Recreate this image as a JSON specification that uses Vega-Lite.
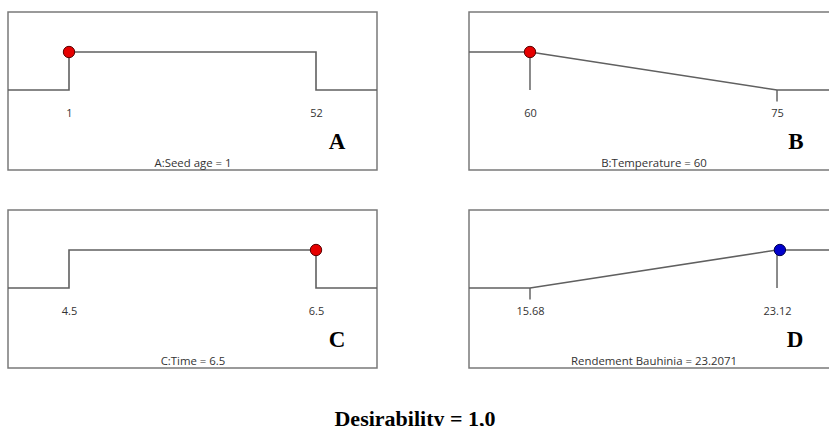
{
  "$schema": "https://vega.github.io/schema/vega-lite/v6.json",
  "padding": {"left": 4, "top": 11, "right": 0, "bottom": 0},
  "background": "white",
  "config": {"view": {"stroke": "#7a7a7a", "strokeWidth": 1.5}, "font": "Open Sans"},
  "title": {"text": "Desirability = 1,0", "orient": "bottom", "anchor": "middle", "offset": 40, "dx": -8, "font": "Liberation Serif", "fontSize": 22, "fontWeight": "bold", "color": "#000000"},
  "datasets": {
    "curve": [
      {"panel": "A", "i": 0, "x": -11.595, "d": 0},
      {"panel": "A", "i": 1, "x": 1, "d": 0},
      {"panel": "A", "i": 2, "x": 1, "d": 1},
      {"panel": "A", "i": 3, "x": 52, "d": 1},
      {"panel": "A", "i": 4, "x": 52, "d": 0},
      {"panel": "A", "i": 5, "x": 64.595, "d": 0},
      {"panel": "B", "i": 0, "x": 56.296, "d": 1},
      {"panel": "B", "i": 1, "x": 60, "d": 1},
      {"panel": "B", "i": 2, "x": 75, "d": 0},
      {"panel": "B", "i": 3, "x": 78.704, "d": 0},
      {"panel": "C", "i": 0, "x": 4.0061, "d": 0},
      {"panel": "C", "i": 1, "x": 4.5, "d": 0},
      {"panel": "C", "i": 2, "x": 4.5, "d": 1},
      {"panel": "C", "i": 3, "x": 6.5, "d": 1},
      {"panel": "C", "i": 4, "x": 6.5, "d": 0},
      {"panel": "C", "i": 5, "x": 6.9939, "d": 0},
      {"panel": "D", "i": 0, "x": 13.8426, "d": 0},
      {"panel": "D", "i": 1, "x": 15.68, "d": 0},
      {"panel": "D", "i": 2, "x": 23.12, "d": 1},
      {"panel": "D", "i": 3, "x": 24.957, "d": 1}
    ],
    "marker": [
      {"panel": "A", "x": 1, "d": 1},
      {"panel": "B", "x": 60, "d": 1},
      {"panel": "C", "x": 6.5, "d": 1},
      {"panel": "D", "x": 23.2071, "d": 1}
    ],
    "tick": [
      {"panel": "B", "x": 60, "d": 1, "d2": 0},
      {"panel": "B", "x": 75, "d": 0, "d2": -0.3},
      {"panel": "D", "x": 15.68, "d": 0, "d2": -0.3},
      {"panel": "D", "x": 23.12, "d": 1, "d2": 0}
    ]
  },
  "columns": 2,
  "spacing": {"row": 38, "column": 84},
  "concat": [
    {
      "width": 369, "height": 158,
      "title": {"text": "A", "orient": "bottom", "anchor": "start", "frame": "group", "align": "center", "dx": 329, "offset": -39, "font": "Liberation Serif", "fontSize": 23, "fontWeight": "bold", "color": "#000000"},
      "layer": [
        {
          "data": {"name": "curve"},
          "transform": [{"filter": "datum.panel === 'A'"}],
          "mark": {"type": "line", "color": "#606060", "strokeWidth": 1.6},
          "encoding": {
            "x": {"field": "x", "type": "quantitative", "scale": {"domain": [-11.595, 64.595], "nice": false, "zero": false},
              "axis": {"values": [1, 52], "format": "d", "title": "A:Seed age = 1", "orient": "bottom", "offset": -65, "domain": false, "ticks": false, "tickSize": 0, "grid": false, "labelPadding": 2, "labelFont": "Open Sans", "labelFontSize": 11, "labelColor": "#333333", "labelFlush": false, "labelOverlap": false, "titleFont": "Open Sans", "titleFontSize": 11.4, "titleFontWeight": "normal", "titleColor": "#333333", "titleY": 52, "titleBaseline": "top"}},
            "y": {"field": "d", "type": "quantitative", "scale": {"domain": [-2.1053, 2.0526], "nice": false, "zero": false}, "axis": null},
            "order": {"field": "i"}
          }
        },
        {
          "data": {"name": "marker"},
          "transform": [{"filter": "datum.panel === 'A'"}],
          "mark": {"type": "circle", "fill": "#e60000", "stroke": "#5a0000", "strokeWidth": 1, "size": 130, "opacity": 1},
          "encoding": {"x": {"field": "x", "type": "quantitative"}, "y": {"field": "d", "type": "quantitative"}}
        }
      ]
    },
    {
      "width": 369, "height": 158,
      "title": {"text": "B", "orient": "bottom", "anchor": "start", "frame": "group", "align": "center", "dx": 327, "offset": -39, "font": "Liberation Serif", "fontSize": 23, "fontWeight": "bold", "color": "#000000"},
      "layer": [
        {
          "data": {"name": "tick"},
          "transform": [{"filter": "datum.panel === 'B'"}],
          "mark": {"type": "rule", "color": "#6e6e6e", "strokeWidth": 1.6},
          "encoding": {
            "x": {"field": "x", "type": "quantitative", "scale": {"domain": [56.296, 78.704], "nice": false, "zero": false},
              "axis": {"values": [60, 75], "format": "d", "title": "B:Temperature = 60", "orient": "bottom", "offset": -65, "domain": false, "ticks": false, "tickSize": 0, "grid": false, "labelPadding": 2, "labelFont": "Open Sans", "labelFontSize": 11, "labelColor": "#333333", "labelFlush": false, "labelOverlap": false, "titleFont": "Open Sans", "titleFontSize": 11.4, "titleFontWeight": "normal", "titleColor": "#333333", "titleY": 52, "titleBaseline": "top"}},
            "y": {"field": "d", "type": "quantitative", "scale": {"domain": [-2.1053, 2.0526], "nice": false, "zero": false}, "axis": null},
            "y2": {"field": "d2"}
          }
        },
        {
          "data": {"name": "curve"},
          "transform": [{"filter": "datum.panel === 'B'"}],
          "mark": {"type": "line", "color": "#606060", "strokeWidth": 1.6},
          "encoding": {
            "x": {"field": "x", "type": "quantitative"},
            "y": {"field": "d", "type": "quantitative"},
            "order": {"field": "i"}
          }
        },
        {
          "data": {"name": "marker"},
          "transform": [{"filter": "datum.panel === 'B'"}],
          "mark": {"type": "circle", "fill": "#e60000", "stroke": "#5a0000", "strokeWidth": 1, "size": 130, "opacity": 1},
          "encoding": {"x": {"field": "x", "type": "quantitative"}, "y": {"field": "d", "type": "quantitative"}}
        }
      ]
    },
    {
      "width": 369, "height": 158,
      "title": {"text": "C", "orient": "bottom", "anchor": "start", "frame": "group", "align": "center", "dx": 329, "offset": -39, "font": "Liberation Serif", "fontSize": 23, "fontWeight": "bold", "color": "#000000"},
      "layer": [
        {
          "data": {"name": "curve"},
          "transform": [{"filter": "datum.panel === 'C'"}],
          "mark": {"type": "line", "color": "#606060", "strokeWidth": 1.6},
          "encoding": {
            "x": {"field": "x", "type": "quantitative", "scale": {"domain": [4.0061, 6.9939], "nice": false, "zero": false},
              "axis": {"values": [4.5, 6.5], "format": ".1f", "title": "C:Time = 6.5", "orient": "bottom", "offset": -65, "domain": false, "ticks": false, "tickSize": 0, "grid": false, "labelPadding": 2, "labelFont": "Open Sans", "labelFontSize": 11, "labelColor": "#333333", "labelFlush": false, "labelOverlap": false, "titleFont": "Open Sans", "titleFontSize": 11.4, "titleFontWeight": "normal", "titleColor": "#333333", "titleY": 52, "titleBaseline": "top"}},
            "y": {"field": "d", "type": "quantitative", "scale": {"domain": [-2.1053, 2.0526], "nice": false, "zero": false}, "axis": null},
            "order": {"field": "i"}
          }
        },
        {
          "data": {"name": "marker"},
          "transform": [{"filter": "datum.panel === 'C'"}],
          "mark": {"type": "circle", "fill": "#e60000", "stroke": "#5a0000", "strokeWidth": 1, "size": 130, "opacity": 1},
          "encoding": {"x": {"field": "x", "type": "quantitative"}, "y": {"field": "d", "type": "quantitative"}}
        }
      ]
    },
    {
      "width": 369, "height": 158,
      "title": {"text": "D", "orient": "bottom", "anchor": "start", "frame": "group", "align": "center", "dx": 326, "offset": -39, "font": "Liberation Serif", "fontSize": 23, "fontWeight": "bold", "color": "#000000"},
      "layer": [
        {
          "data": {"name": "tick"},
          "transform": [{"filter": "datum.panel === 'D'"}],
          "mark": {"type": "rule", "color": "#6e6e6e", "strokeWidth": 1.6},
          "encoding": {
            "x": {"field": "x", "type": "quantitative", "scale": {"domain": [13.8426, 24.957], "nice": false, "zero": false},
              "axis": {"values": [15.68, 23.12], "format": ".2f", "title": "Rendement Bauhinia = 23.2071", "orient": "bottom", "offset": -65, "domain": false, "ticks": false, "tickSize": 0, "grid": false, "labelPadding": 2, "labelFont": "Open Sans", "labelFontSize": 11, "labelColor": "#333333", "labelFlush": false, "labelOverlap": false, "titleFont": "Open Sans", "titleFontSize": 11.4, "titleFontWeight": "normal", "titleColor": "#333333", "titleY": 52, "titleBaseline": "top"}},
            "y": {"field": "d", "type": "quantitative", "scale": {"domain": [-2.1053, 2.0526], "nice": false, "zero": false}, "axis": null},
            "y2": {"field": "d2"}
          }
        },
        {
          "data": {"name": "curve"},
          "transform": [{"filter": "datum.panel === 'D'"}],
          "mark": {"type": "line", "color": "#606060", "strokeWidth": 1.6},
          "encoding": {
            "x": {"field": "x", "type": "quantitative"},
            "y": {"field": "d", "type": "quantitative"},
            "order": {"field": "i"}
          }
        },
        {
          "data": {"name": "marker"},
          "transform": [{"filter": "datum.panel === 'D'"}],
          "mark": {"type": "circle", "fill": "#0000cc", "stroke": "#000050", "strokeWidth": 1, "size": 130, "opacity": 1},
          "encoding": {"x": {"field": "x", "type": "quantitative"}, "y": {"field": "d", "type": "quantitative"}}
        }
      ]
    }
  ]
}
